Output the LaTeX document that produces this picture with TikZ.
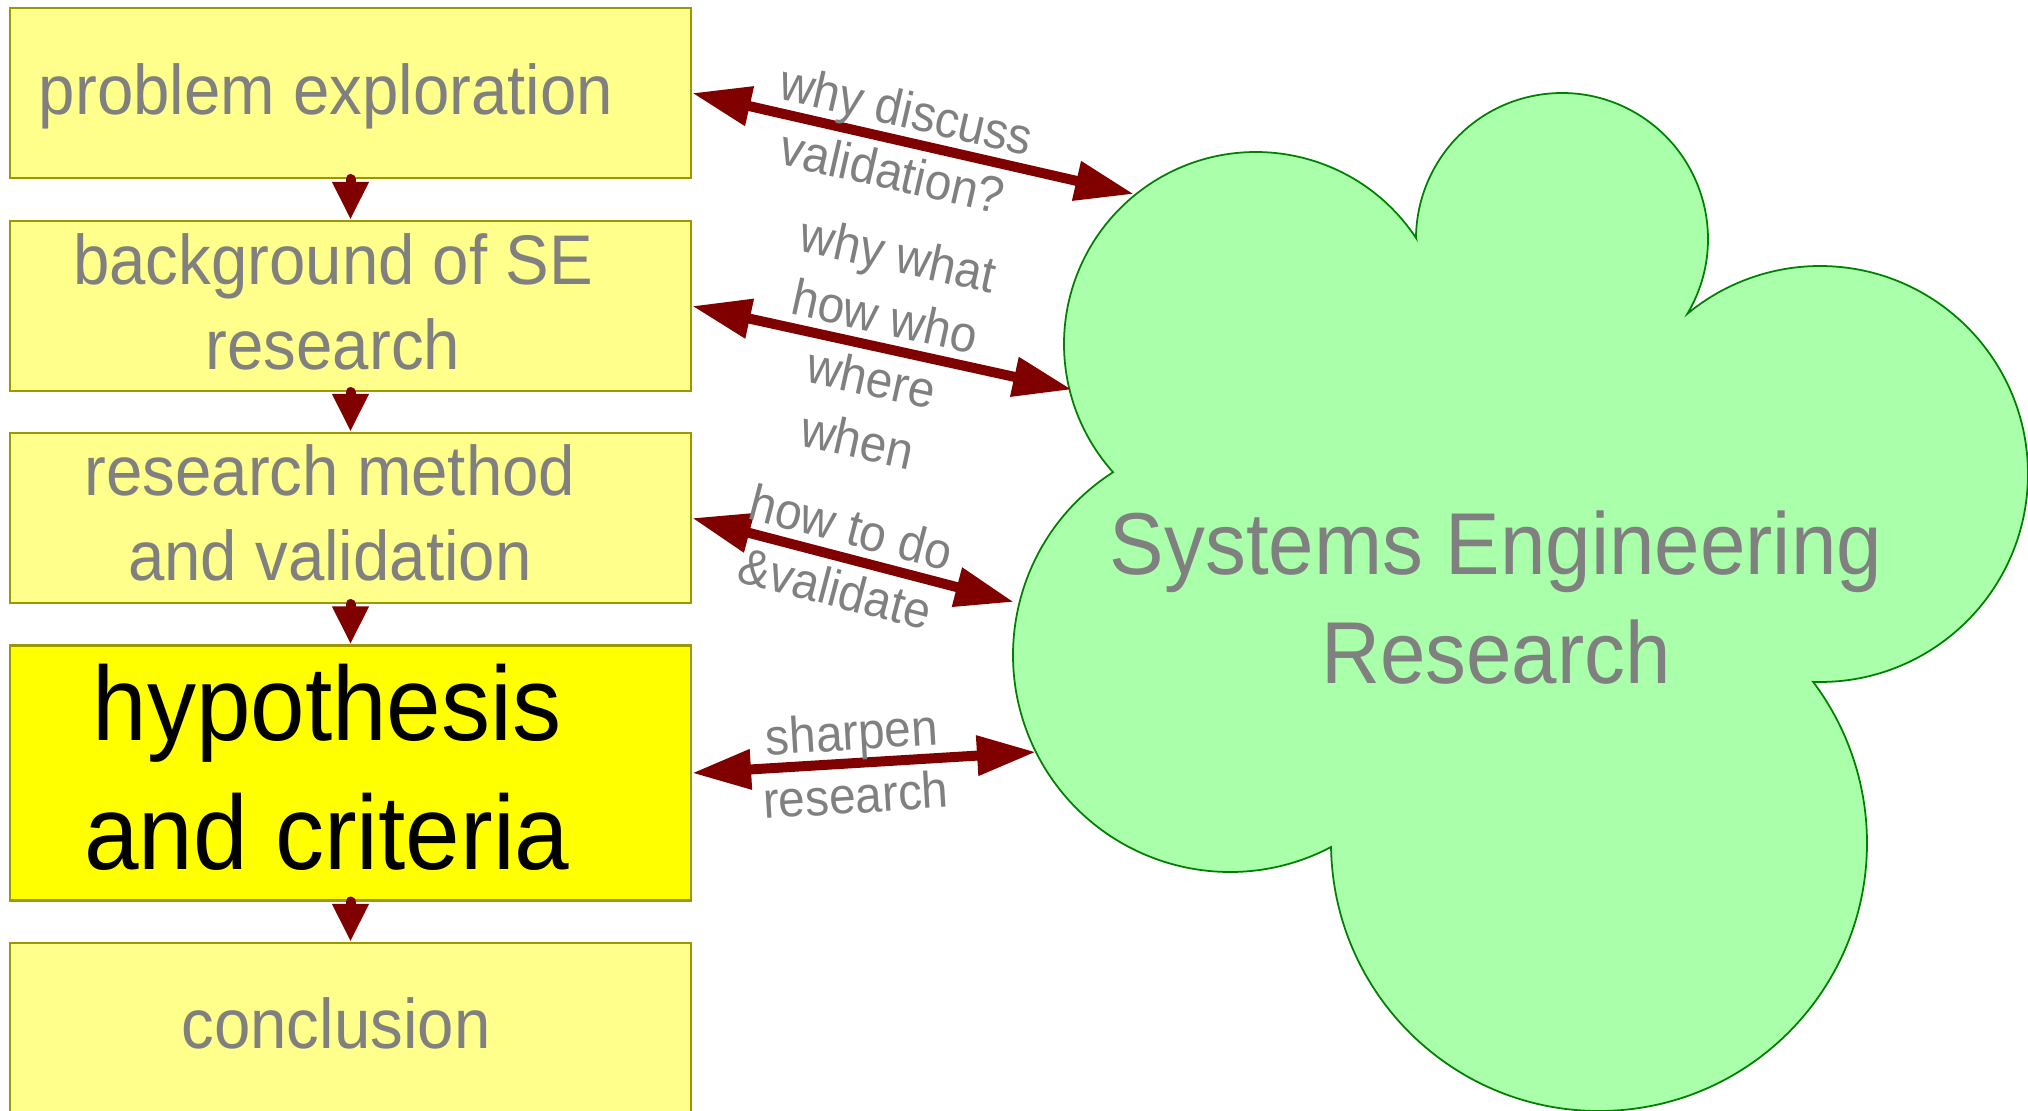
\documentclass[tikz,border=0pt]{standalone}
\usepackage{fontspec}
\setmainfont{Liberation Sans}[FakeStretch=0.93]
\usetikzlibrary{arrows.meta, positioning}

\definecolor{boxfill}{RGB}{255,255,140}
\definecolor{boxline}{RGB}{153,153,0}
\definecolor{hotfill}{RGB}{255,255,0}
\definecolor{cloudfill}{RGB}{170,255,170}
\definecolor{cloudline}{RGB}{0,128,0}
\definecolor{arrowred}{RGB}{128,0,0}
\definecolor{textgray}{RGB}{128,128,128}

\begin{document}
\begin{tikzpicture}[
    stage/.style={draw=boxline, fill=boxfill, line width=0.6pt, rectangle, minimum width=6.81cm, minimum height=1.70cm, inner sep=0pt},
    stagetext/.style={text=textgray, align=center, font=\fontsize{20}{24.2}\selectfont},
    flow/.style={draw=arrowred, line width=0.1cm, line cap=round, -{Triangle[length=0.38cm, width=0.34cm]}},
    link/.style={draw=arrowred, line width=0.1cm, {Triangle[length=0.59cm, width=0.38cm]}-{Triangle[length=0.59cm, width=0.38cm]}},
    linktext/.style={text=textgray, align=center, sloped, pos=0.47, font=\fontsize{14.6}{18}\selectfont}
]
\useasboundingbox (0,0) rectangle (20.28,-11.10);

% Cloud
\path[draw=cloudline, fill=cloudfill, line width=0.5pt] (14.160,-2.379)
    arc[start angle=33.55, end angle=221.89, radius=1.92]
    arc[start angle=122.61, end angle=297.75, radius=2.17]
    arc[start angle=180.86, end angle=396.96, radius=2.68]
    arc[start angle=-91.88, end angle=129.60, radius=2.08]
    arc[start angle=-30.79, end angle=179.56, radius=1.46] -- cycle;
\node[text=textgray, align=center, font=\fontsize{25}{31}\selectfont] (ser) at (14.96,-5.98) {Systems Engineering\\Research};

% Cloud contact points
\coordinate (se1) at (11.34,-1.94);
\coordinate (se2) at (10.72,-3.895);
\coordinate (se3) at (10.14,-6.02);
\coordinate (se4) at (10.36,-7.52);

% Stages
\node[stage] (pe) at (3.505,-0.93) {};
\node[stage] (bg) at (3.505,-3.06) {};
\node[stage] (rm) at (3.505,-5.18) {};
\node[stage, fill=hotfill, minimum height=2.55cm] (hc) at (3.505,-7.73) {};
\node[stage, minimum height=1.76cm] (cc) at (3.505,-10.31) {};

\node[stagetext] (pe-t) at (3.26,-0.967) {problem exploration};
\node[stagetext] (bg-t) at (3.33,-3.02) {background of SE\\research};
\node[stagetext] (rm-t) at (3.30,-5.13) {research method\\and validation};
\node[stagetext, text=black, font=\fontsize{30}{36.6}\selectfont] (hc-t) at (3.27,-7.67) {hypothesis\\and criteria};
\node[stagetext] (cc-t) at (3.36,-10.23) {conclusion};

% Flow between stages
\draw[flow] (pe.south) -- (bg.north);
\draw[flow] (bg.south) -- (rm.north);
\draw[flow] (rm.south) -- (hc.north);
\draw[flow] (hc.south) -- (cc.north);

% Links to the cloud
\draw[link] (pe.east) -- node[linktext] (l1) {why discuss\\validation?} (se1);
\draw[link] (bg.east) -- node[linktext, pos=0.49] (l2) {why what\\how who\\where\\when} (se2);
\draw[link] (rm.east) -- node[linktext] (l3) {how to do\\\&validate} (se3);
\draw[link] (hc.east) -- node[linktext] (l4) {sharpen\\research} (se4);

\end{tikzpicture}
\end{document}
